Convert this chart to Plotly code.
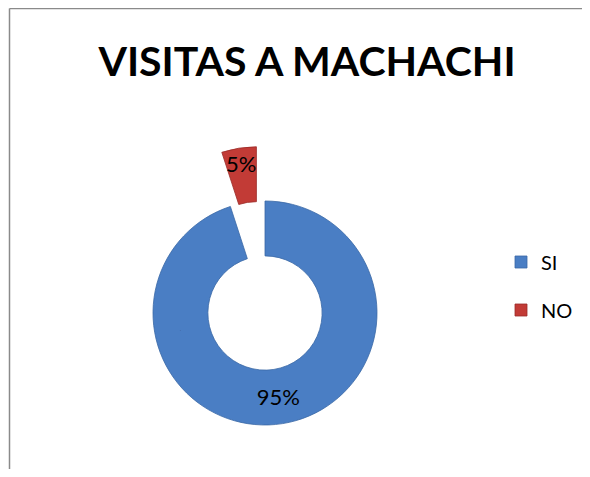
import math
import plotly.graph_objects as go

labels = ["SI", "NO"]
values = [95, 5]
colors = ["#4A7EC4", "#C23B36"]
line_colors = ["#3A68A6", "#9A2C28"]
pull_frac = [0.0, 0.49]          # how far each slice is pulled out, as a fraction of the radius
title_text = "VISITAS A MACHACHI"

# page body has an 8px margin on every side: keep the figure inside the 590x477 window
OFF = 8
W, H = 590 - 2 * OFF, 477 - 2 * OFF

# donut geometry (reference pixel coordinates -> figure coordinates)
CX, CY, R = 265 - OFF, 313 - OFF, 112
HOLE = 0.51

fig = go.Figure()

total = sum(values)
cum = 0.0
for i, (lab, val) in enumerate(zip(labels, values)):
    # angle (clockwise from 12 o'clock) of the middle of slice i
    mid = 2 * math.pi * (cum + val / 2) / total
    cum += val
    d = pull_frac[i] * R
    cx = CX + d * math.sin(mid)
    cy = CY - d * math.cos(mid)
    slice_colors = [c if j == i else "rgba(0,0,0,0)" for j, c in enumerate(colors)]
    slice_lines = [c if j == i else "rgba(0,0,0,0)" for j, c in enumerate(line_colors)]
    slice_text = ["%{percent:.0%}" if j == i else "" for j in range(len(labels))]
    fig.add_trace(go.Pie(
        labels=labels,
        values=values,
        hole=HOLE,
        sort=False,
        direction="clockwise",
        rotation=0,
        marker=dict(colors=slice_colors, line=dict(color=slice_lines, width=0.8)),
        texttemplate=slice_text,
        textposition="inside",
        insidetextorientation="horizontal",
        textfont=dict(family="Lato", size=22, color="black"),
        domain=dict(x=[(cx - R) / W, (cx + R) / W],
                    y=[1 - (cy + R) / H, 1 - (cy - R) / H]),
        hoverinfo="label+percent",
        showlegend=False,
    ))

# legend entries (one per legend, so the two rows can be spaced like the reference)
legend_ids = ["legend", "legend2"]
for lab, val, col, lc, lid in zip(labels, values, colors, line_colors, legend_ids):
    fig.add_trace(go.Pie(
        labels=[lab],
        values=[val],
        marker=dict(colors=[col], line=dict(color=lc, width=0.8)),
        textinfo="none",
        hoverinfo="skip",
        domain=dict(x=[0.3, 0.30005], y=[0.3, 0.30005]),
        legend=lid,
        showlegend=True,
    ))

legend_common = dict(
    bgcolor="rgba(0,0,0,0)",
    font=dict(family="Lato", size=20, color="black"),
    xanchor="left",
    yanchor="middle",
    x=(501 - OFF) / W,
)

fig.update_layout(
    legend=dict(y=1 - (262 - OFF) / H, **legend_common),
    legend2=dict(y=1 - (310 - OFF) / H, **legend_common),
)

frame_x = (9.5 - OFF) / W
frame_y = 1 - (8.5 - OFF) / H
frame_line = dict(color="#8A8A8A", width=1.5)

fig.update_layout(
    width=W,
    height=H,
    margin=dict(l=0, r=0, t=0, b=0),
    paper_bgcolor="white",
    plot_bgcolor="white",
    uniformtext=dict(minsize=22, mode="show"),
    title=dict(
        text=title_text,
        x=(307 - OFF) / W,
        xanchor="center",
        xref="paper",
        y=1 - (62 - OFF) / H,
        yanchor="middle",
        yref="container",
        font=dict(family="Lato", size=41, color="black", weight="bold"),
    ),
    shapes=[
        dict(type="line", xref="paper", yref="paper",
             x0=frame_x, x1=1, y0=frame_y, y1=frame_y,
             line=frame_line, layer="below"),
        dict(type="line", xref="paper", yref="paper",
             x0=frame_x, x1=frame_x, y0=0, y1=frame_y,
             line=frame_line, layer="below"),
    ],
)

fig.write_html("out.html")
